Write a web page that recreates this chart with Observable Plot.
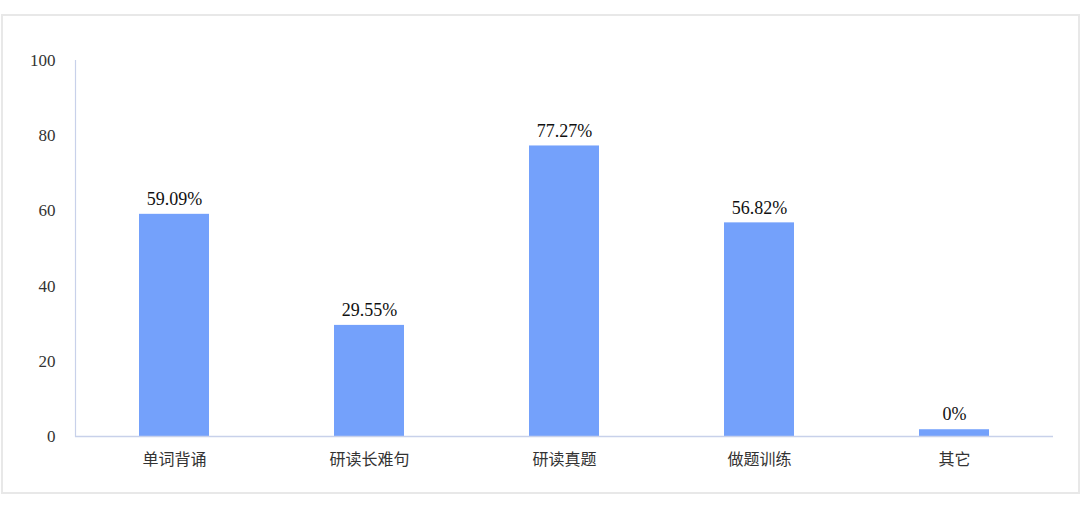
<!DOCTYPE html>
<html>
<head>
<meta charset="utf-8">
<script src="https://cdn.jsdelivr.net/npm/d3@7"></script>
<script src="https://cdn.jsdelivr.net/npm/@observablehq/plot@0.6"></script>
<style>
  html, body { margin: 0; padding: 0; background: #fff; }
  #wrap { position: relative; width: 1080px; height: 528px; }
  #frame { position: absolute; left: 1px; top: 14px; width: 1075px; height: 476px; border: 2px solid #e8e8e8; pointer-events: none; }
</style>
</head>
<body>
<div id="wrap"><div id="frame"></div></div>
<script>
const categories = ["单词背诵", "研读长难句", "研读真题", "做题训练", "其它"];
const values = [59.09, 29.55, 77.27, 56.82, 0];
const barValues = [59.09, 29.55, 77.27, 56.82, 1.8]; // "其它" is drawn as a thin sliver in the reference
const valueLabels = ["59.09%", "29.55%", "77.27%", "56.82%", "0%"];
const yTicks = [0, 20, 40, 60, 80, 100];

const data = categories.map((c, i) => ({cat: c, value: values[i], bar: barValues[i], label: valueLabels[i]}));

const serif = "'Liberation Serif', 'DejaVu Serif', serif";
const cjk = "'Noto Sans CJK SC', sans-serif";

const chart = Plot.plot({
  width: 1080,
  height: 528,
  marginLeft: 75,
  marginRight: 27,
  marginTop: 60,
  marginBottom: 92,
  style: {background: "transparent", color: "#333"},
  x: {domain: categories, paddingInner: 0.64, paddingOuter: 0.32, label: null},
  y: {domain: [0, 100], label: null},
  marks: [
    Plot.barY(data, {x: "cat", y: "bar", fill: "#74a1fb"}),
    Plot.frame({anchor: "left", stroke: "#c8d1ea", strokeWidth: 1.2}),
    Plot.ruleY([0], {stroke: "#c8d1ea", strokeWidth: 1.5}),
    Plot.axisY(yTicks, {tickSize: 0, tickPadding: 20, fontSize: 17, fontFamily: serif, fill: "#333", label: null}),
    Plot.axisX({tickSize: 0, tickPadding: 17, fontSize: 16, fontFamily: cjk, fill: "#333", label: null}),
    Plot.text(data, {x: "cat", y: "bar", text: "label", dy: -15, fontSize: 18, fontFamily: serif, fill: "#111"})
  ]
});
document.getElementById("wrap").prepend(chart);
</script>
</body>
</html>
